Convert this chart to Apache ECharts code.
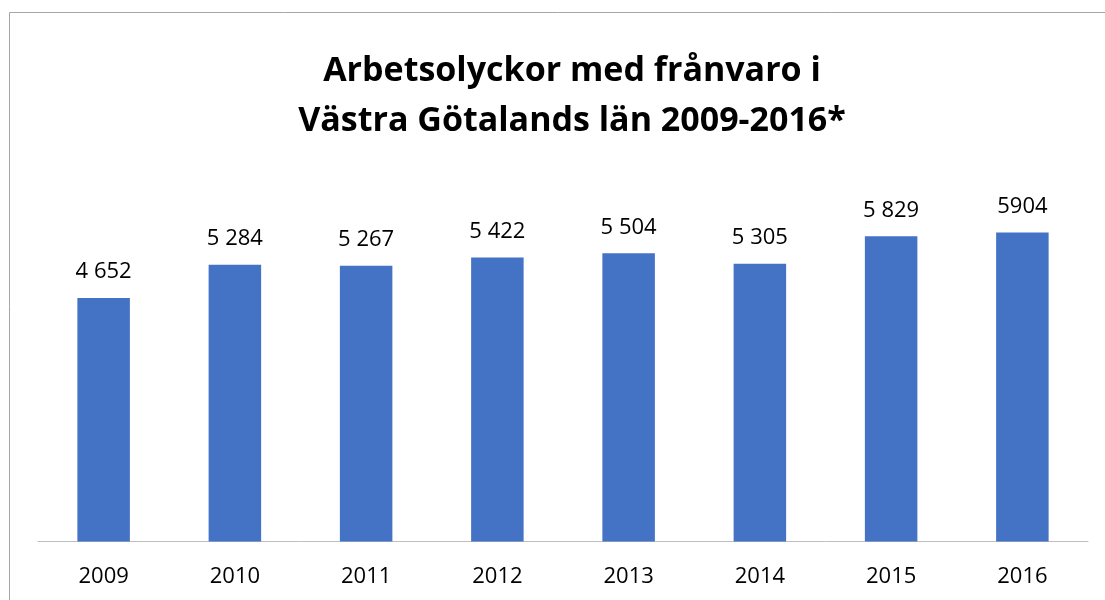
<!DOCTYPE html>
<html>
<head>
<meta charset="utf-8">
<script src="https://cdn.jsdelivr.net/npm/echarts@6/dist/echarts.min.js"></script>
<style>
html, body { margin: 0; padding: 0; background: #fff; }
#chart { width: 1105px; height: 600px; }
</style>
</head>
<body>
<div id="chart"></div>
<script>
var years = ['2009', '2010', '2011', '2012', '2013', '2014', '2015', '2016'];
var olyckor = [4652, 5284, 5267, 5422, 5504, 5305, 5829, 5904];
var etiketter = ['4 652', '5 284', '5 267', '5 422', '5 504', '5 305', '5 829', '5904'];

var chart = echarts.init(document.getElementById('chart'));
chart.setOption({
    backgroundColor: '#fff',
    animation: false,
    title: {
        text: 'Arbetsolyckor med frånvaro i\nVästra Götalands län 2009-2016*',
        left: 567,
        textAlign: 'center',
        top: 41,
        textStyle: {
            fontFamily: 'Open Sans',
            fontWeight: 'bold',
            fontSize: 34,
            lineHeight: 50,
            color: '#000'
        }
    },
    graphic: [{
        type: 'rect',
        shape: { x: 9.5, y: 12.5, width: 1200, height: 700 },
        style: { fill: 'none', stroke: '#a6a6a6', lineWidth: 1 }
    }],
    grid: { left: 38, right: 17, top: 175, bottom: 58.5 },
    xAxis: {
        type: 'category',
        data: years,
        axisLine: { lineStyle: { color: '#bfbfbf', width: 1 } },
        axisTick: { show: false },
        axisLabel: { color: '#000', fontSize: 22, fontFamily: 'Open Sans', margin: 24 }
    },
    yAxis: {
        type: 'value',
        min: 0,
        max: 7000,
        show: false,
        splitLine: { show: false }
    },
    series: [{
        type: 'bar',
        data: olyckor,
        barWidth: '40%',
        itemStyle: { color: '#4472c4' },
        label: {
            show: true,
            position: 'top',
            distance: 15,
            color: '#000',
            fontSize: 22,
            fontFamily: 'Open Sans',
            formatter: function (p) { return etiketter[p.dataIndex]; }
        }
    }]
});
</script>
</body>
</html>
